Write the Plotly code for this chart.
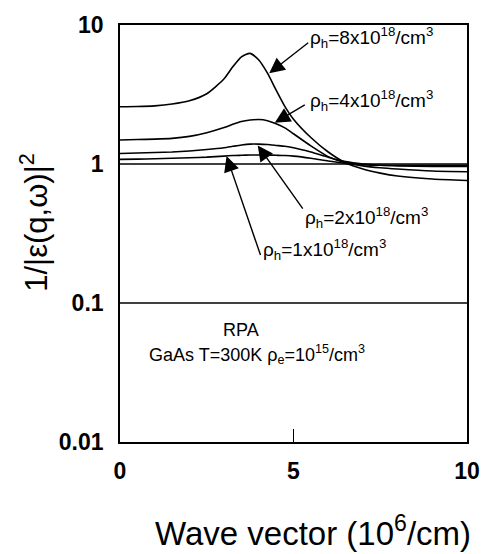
import numpy as np
import plotly.graph_objects as go

# wave vector (10^6/cm)
q = [0, 0.5, 1, 1.5, 2, 2.5, 3, 3.25, 3.5, 3.75, 4, 4.25, 4.5, 4.75, 5, 5.5, 6, 6.5, 7, 7.5, 8, 9, 10]

rho8 = [2.58, 2.59, 2.62, 2.70, 2.85, 3.2, 4.1, 5.0, 5.9, 6.25, 5.6, 4.5, 3.4, 2.6, 2.1, 1.55, 1.22, 1.02, 0.92, 0.86, 0.82, 0.78, 0.76]
rho4 = [1.49, 1.50, 1.51, 1.53, 1.58, 1.68, 1.83, 1.93, 2.02, 2.07, 2.09, 2.05, 1.95, 1.82, 1.65, 1.35, 1.13, 1.02, 0.97, 0.94, 0.92, 0.89, 0.88]
rho2 = [1.19, 1.20, 1.21, 1.22, 1.24, 1.27, 1.31, 1.34, 1.37, 1.39, 1.39, 1.38, 1.36, 1.34, 1.31, 1.22, 1.12, 1.04, 1.00, 0.98, 0.97, 0.96, 0.96]
rho1 = [1.08, 1.085, 1.09, 1.10, 1.11, 1.12, 1.14, 1.15, 1.155, 1.16, 1.16, 1.16, 1.155, 1.15, 1.14, 1.10, 1.05, 1.01, 0.99, 0.98, 0.98, 0.98, 0.98]

ref_q = [0, 10]
ref_one = [1.0, 1.0]
ref_tenth = [0.1, 0.1]

labels = ["ρ<sub>h</sub>=8x10<sup>18</sup>/cm<sup>3</sup>",
          "ρ<sub>h</sub>=4x10<sup>18</sup>/cm<sup>3</sup>",
          "ρ<sub>h</sub>=2x10<sup>18</sup>/cm<sup>3</sup>",
          "ρ<sub>h</sub>=1x10<sup>18</sup>/cm<sup>3</sup>"]
# arrow tip on curve (q, value)
tips_q = [4.3, 4.46, 3.97, 3.07]
tips_v = [4.5, 1.98, 1.36, 1.14]

fig = go.Figure()
line = dict(color="black", width=1.6, shape="spline", smoothing=0.6)
for ys in [rho8, rho4, rho2, rho1]:
    fig.add_trace(go.Scatter(x=q, y=ys, mode="lines", line=line, showlegend=False))
for ys in [ref_one, ref_tenth]:
    fig.add_trace(go.Scatter(x=ref_q, y=ys, mode="lines", line=dict(color="black", width=1.6), showlegend=False))

W, H = 492, 554
L, R, T, B = 120, 19, 15, 112
pw, ph = W - L - R, H - T - B

def px(x):
    return (x - L) / pw

def py(y):
    return (H - B - y) / ph

font = "Liberation Sans, Arial, sans-serif"
# label positions (left edge px, center px)
lab_pos = [(311, 28), (311, 92), (306, 212), (263, 245)]
# arrow offsets in px (tail - tip)
arr_off = [(41, -32), (32, -19), (47, 66), (35, 102)]

anns = []
for lab, (lx, ly) in zip(labels, lab_pos):
    anns.append(dict(x=px(lx), y=py(ly), xref="paper", yref="paper", text=lab, showarrow=False,
                     xanchor="left", yanchor="middle", font=dict(family=font, size=19, color="black")))
for tq, tv, (dx, dy) in zip(tips_q, tips_v, arr_off):
    anns.append(dict(x=tq, y=np.log10(tv), xref="x", yref="y", text=" ", showarrow=True,
                     ax=dx, ay=dy, arrowhead=2, arrowsize=2.2, arrowwidth=1.4, arrowcolor="black",
                     font=dict(size=2)))
anns.append(dict(x=px(243.5), y=py(327), xref="paper", yref="paper", text="RPA", showarrow=False,
                 xanchor="center", yanchor="middle", font=dict(family=font, size=18, color="black")))
anns.append(dict(x=px(147), y=py(352), xref="paper", yref="paper",
                 text="GaAs T=300K ρ<sub>e</sub>=10<sup>15</sup>/cm<sup>3</sup>", showarrow=False,
                 xanchor="left", yanchor="middle", font=dict(family=font, size=18, color="black")))
anns.append(dict(x=px(316), y=py(533), xref="paper", yref="paper",
                 text="Wave vector (10<sup>6</sup>/cm)", showarrow=False,
                 xanchor="center", yanchor="middle", font=dict(family=font, size=33, color="black")))
anns.append(dict(x=px(33), y=py(217), xref="paper", yref="paper",
                 text="1/|ε(q,ω)|<sup>2</sup>", showarrow=False, textangle=-90,
                 xanchor="center", yanchor="middle", font=dict(family=font, size=31, color="black")))

fig.update_layout(
    width=W, height=H, margin=dict(l=L, r=R, t=T, b=B),
    paper_bgcolor="white", plot_bgcolor="white",
    annotations=anns,
    xaxis=dict(range=[0, 10], tickvals=[0, 5, 10], ticktext=["0", "5", "10"],
               ticks="inside", ticklen=13, tickwidth=1.4, tickcolor="black",
               showline=True, linecolor="black", linewidth=1.6, mirror=True,
               showgrid=False, zeroline=False, ticklabelstandoff=8,
               tickfont=dict(family=font, size=23, color="black", weight="bold")),
    yaxis=dict(type="log", range=[-2, 1], tickvals=[0.01, 0.1, 1, 10], ticktext=["0.01", "0.1", "1", "10"],
               ticks="", showline=True, linecolor="black", linewidth=1.6, mirror=True,
               showgrid=False, zeroline=False, ticklabelstandoff=10,
               tickfont=dict(family=font, size=23, color="black", weight="bold")),
)
fig.write_html("out.html")
